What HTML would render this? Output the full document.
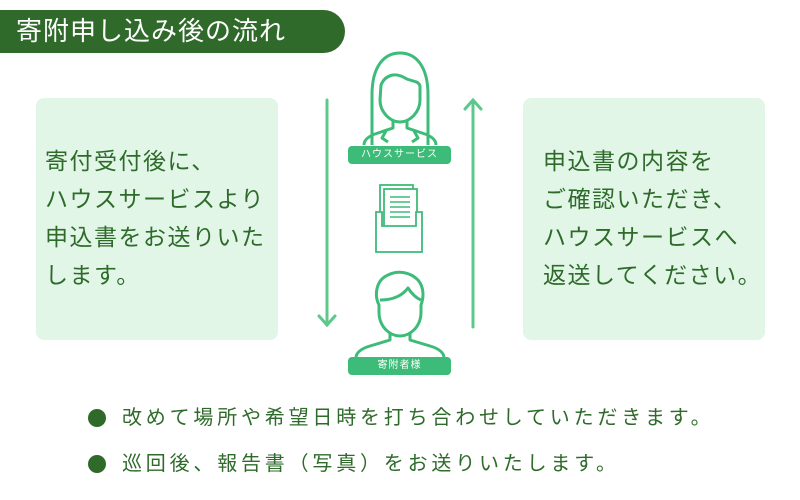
<!DOCTYPE html>
<html><head><meta charset="utf-8"><style>
html,body{margin:0;padding:0;background:#fff;}
body{width:800px;height:500px;position:relative;overflow:hidden;font-family:"Liberation Sans","Noto Sans CJK JP",sans-serif;}
.hdr{position:absolute;left:0;top:10px;width:345px;height:43px;background:#2f6a2a;border-radius:0 22px 22px 0;color:#fff;font-size:26px;line-height:43px;padding-left:16px;box-sizing:border-box;letter-spacing:1px;}
.box{position:absolute;top:98px;width:242px;height:242px;background:#e2f6e8;border-radius:8px;color:#2e6b2a;font-size:23px;letter-spacing:1.5px;line-height:38px;box-sizing:border-box;padding-top:44px;white-space:nowrap;}
.bl{position:absolute;left:88px;width:18px;height:18px;border-radius:50%;background:#2f6a2a;}
.bt{position:absolute;left:122px;color:#2e6b2a;font-size:20px;letter-spacing:3.8px;line-height:24px;white-space:nowrap;}
.pill{position:absolute;left:348px;width:103px;height:18px;background:#3dbb78;border-radius:4px;color:#fff;font-size:10px;line-height:18px;text-align:center;letter-spacing:1px;}
</style></head><body>
<div class="hdr">寄附申し込み後の流れ</div>
<div class="box" style="left:36px;padding-left:9px;">寄付受付後に、<br>ハウスサービスより<br>申込書をお送りいた<br>します。</div>
<div class="box" style="left:523px;padding-left:20px;">申込書の内容を<br>ご確認いただき、<br>ハウスサービスへ<br>返送してください。</div>
<svg style="position:absolute;left:0;top:0" width="800" height="500">
<g stroke="#5cc88a" stroke-width="3" fill="none" stroke-linecap="round">
<line x1="327" y1="100" x2="327" y2="325"/><polyline points="319,316 327,325 335,316"/>
<line x1="473" y1="327" x2="473" y2="101"/><polyline points="465,109 473,100 481,109"/>
</g>
<g stroke="#3dbb78" stroke-width="3" fill="none" stroke-linejoin="round">
<path d="M372,145 L372,95 C372,65 385,53 400,53 C415,53 428,65 428,95 L428,145"/>
<path d="M381,85 C385,75 395,72 405,78 C412,82 418,80 420,86 L420,100 C420,112 410,122 400,122 C390,122 380,112 380,100 Z"/>
<path d="M393,120 L393,128 L378,133 C368,136 364,140 364,145"/>
<path d="M407,120 L407,128 L422,133 C432,136 436,140 436,145"/>
<path d="M386,131 L382,138 L388,142 M414,131 L418,138 L412,142"/>
<path d="M379,305 C374,295 376,280 388,275 C398,270 410,272 418,280 C424,287 424,297 421,305 L421,312 C421,327 410,336 400,336 C390,336 379,327 379,312 Z"/>
<path d="M380,300 C392,300 402,296 408,288 C412,294 416,298 421,300"/>
<path d="M390,334 L390,340 L370,346 C360,349 356,353 356,358 M410,334 L410,340 L430,346 C440,349 444,353 444,358"/>
</g>
<g stroke="#3dbb78" stroke-width="1.8" fill="#fff">
<rect x="380" y="185" width="33" height="42"/>
<rect x="384" y="189" width="33" height="42"/>
<path d="M376,212 L376,252 L422,252 L422,212 L416,212 L416,226 L382,226 L382,212 Z"/>
</g>
<g stroke="#3dbb78" stroke-width="1.6">
<line x1="390" y1="197" x2="410" y2="197"/><line x1="390" y1="202" x2="410" y2="202"/>
<line x1="390" y1="207" x2="410" y2="207"/><line x1="390" y1="212" x2="410" y2="212"/>
<line x1="390" y1="217" x2="410" y2="217"/>
</g>
</svg>
<div class="pill" style="top:146px;">ハウスサービス</div>
<div class="pill" style="top:357px;">寄附者様</div>
<div class="bl" style="top:409px;"></div>
<div class="bt" style="top:406px;">改めて場所や希望日時を打ち合わせしていただきます。</div>
<div class="bl" style="top:455px;"></div>
<div class="bt" style="top:452px;">巡回後、報告書（写真）をお送りいたします。</div>
</body></html>
